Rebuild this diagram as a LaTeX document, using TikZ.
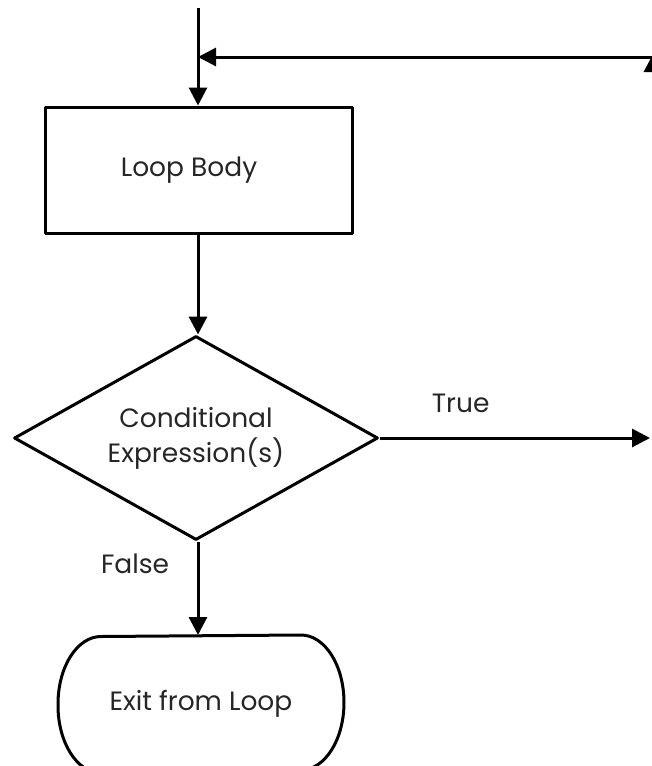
\documentclass[tikz,border=0pt]{standalone}
\usepackage{fontspec}
\setmainfont{Poppins}
\usepackage{tikz}
\usetikzlibrary{arrows.meta,shapes}

\begin{document}
\begin{tikzpicture}[x=1pt, y=-1pt, line width=3pt, line join=round,
	every node/.style={font=\fontsize{26.5}{35}\selectfont, text=black!85},
	flow/.style={-{Triangle[length=18pt,width=18pt]}},
	box/.style={draw, rectangle, minimum width=307pt, minimum height=126pt, inner sep=0pt},
	decision/.style={draw, diamond, aspect=1.78, minimum width=364pt, minimum height=204pt, inner sep=0pt, align=center},
	terminal/.style={rectangle, minimum width=283pt, minimum height=135pt, inner sep=0pt}]
	\useasboundingbox (0,0) rectangle (651,766);
	% entry and return line
	\coordinate (start) at (198,8);
	\coordinate (join) at (198,57);
	\coordinate (corner) at (653,57);
	\coordinate (rise) at (653,140);
	% loop body
	\node[box] (body) at (199,170) {\raisebox{6pt}{Loop Body}\hspace*{20pt}};
	% condition
	\node[decision] (cond) at (196,438) {Conditional\\Expression(s)};
	\coordinate (out) at (650,438);
	% exit
	\node[terminal] (exit) at (201,704) {Exit from Loop};
	\draw (exit.west) arc[start angle=180, end angle=90, x radius=43pt, y radius=67.5pt]
		-- ([xshift=-43pt]exit.north east)
		arc[start angle=90, end angle=-90, x radius=43pt, y radius=67.5pt]
		-- ([xshift=43pt]exit.south west)
		arc[start angle=270, end angle=180, x radius=43pt, y radius=67.5pt] -- cycle;
	% connectors
	\draw[flow] (start) -- (body.north -| start);
	\draw[flow] (corner) -- (join);
	\draw[flow] (rise) -- ([yshift=3pt]corner);
	\draw[flow] (body.south -| start) -- (cond.north -| start);
	\draw[flow] (cond.east) -- node[above=20pt, pos=0.3] (yes) {True} (out);
	\draw[flow] (cond.south -| start) -- node[left=24pt, pos=0.24] (no) {False} (exit.north -| start);
\end{tikzpicture}
\end{document}
